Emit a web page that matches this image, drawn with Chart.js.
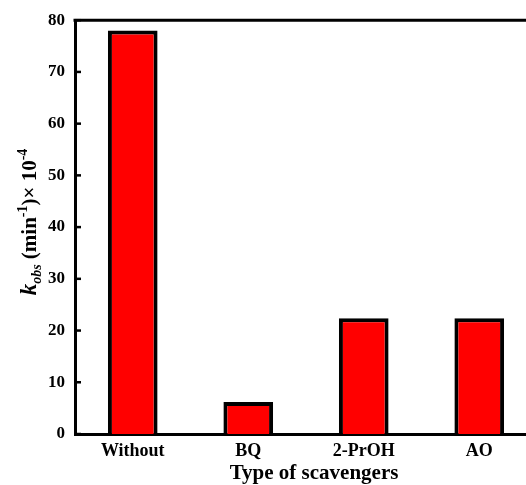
<!DOCTYPE html>
<html>
<head>
<meta charset="utf-8">
<script src="https://cdn.jsdelivr.net/npm/chart.js@4.4.1/dist/chart.umd.min.js"></script>
<style>
  html, body { margin: 0; padding: 0; background: #fff; overflow: hidden; width: 526px; height: 485px; }
  #wrap { width: 560px; height: 485px; }
</style>
</head>
<body>
<div id="wrap"><canvas id="c" width="560" height="485"></canvas></div>
<script>
const categories = ['Without', 'BQ', '2-PrOH', 'AO'];
const kobsValues = [78, 6.2, 22.4, 22.4];
const yTickValues = [0, 10, 20, 30, 40, 50, 60, 70, 80];
const xTitle = 'Type of scavengers';

const SERIF = '"Liberation Serif", "Times New Roman", Times, serif';

const framePlugin = {
  id: 'frame',
  afterDraw(chart) {
    const { ctx, chartArea: a, scales } = chart;
    ctx.save();
    ctx.strokeStyle = '#000';
    ctx.lineWidth = 3;
    ctx.beginPath();
    ctx.moveTo(a.left - 1.5, a.top);
    ctx.lineTo(a.right, a.top);
    ctx.lineTo(a.right, a.bottom);
    ctx.stroke();
    // inward ticks on y axis
    ctx.lineWidth = 2.5;
    yTickValues.forEach(v => {
      const y = scales.y.getPixelForValue(v);
      ctx.beginPath();
      ctx.moveTo(a.left, y);
      ctx.lineTo(a.left + 6, y);
      ctx.stroke();
    });
    // x title
    ctx.fillStyle = '#000';
    ctx.font = 'bold 21px ' + SERIF;
    ctx.textAlign = 'center';
    ctx.textBaseline = 'alphabetic';
    ctx.fillText(xTitle, a.left + 239, 479);
    // y title (rich text)
    const segs = [
      { t: 'k', size: 23, italic: true, dy: 0 },
      { t: 'obs', size: 14, italic: true, dy: 5 },
      { t: ' (min', size: 21, italic: false, dy: 0 },
      { t: '-1', size: 14, italic: false, dy: -9 },
      { t: ')\u00d7 10', size: 21, italic: false, dy: 0 },
      { t: '-4', size: 14, italic: false, dy: -9 }
    ];
    const fontOf = s => (s.italic ? 'italic ' : '') + 'bold ' + s.size + 'px ' + SERIF;
    let total = 0;
    segs.forEach(s => { ctx.font = fontOf(s); s.w = ctx.measureText(s.t).width; total += s.w; });
    ctx.translate(36, 222);
    ctx.rotate(-Math.PI / 2);
    ctx.textAlign = 'left';
    let x = -total / 2;
    segs.forEach(s => {
      ctx.font = fontOf(s);
      ctx.fillText(s.t, x, s.dy);
      x += s.w;
    });
    ctx.restore();
  }
};

new Chart(document.getElementById('c'), {
  type: 'bar',
  data: {
    labels: categories,
    datasets: [{
      data: kobsValues,
      backgroundColor: '#ff0000',
      borderColor: '#000000',
      borderWidth: 4,
      categoryPercentage: 1.0,
      barPercentage: 0.43
    }]
  },
  options: {
    responsive: false,
    animation: false,
    devicePixelRatio: 1,
    layout: { padding: { left: 0, right: 23, top: 18, bottom: 0 } },
    plugins: { legend: { display: false }, tooltip: { enabled: false } },
    scales: {
      x: {
        grid: { display: false, drawTicks: false },
        border: { display: true, color: '#000', width: 3 },
        ticks: { color: '#000', font: { family: SERIF, size: 18, weight: 'bold' }, padding: 7, maxRotation: 0 },
        afterFit(scale) { scale.height = 51; }
      },
      y: {
        min: 0, max: 80,
        grid: { display: false, drawTicks: false },
        border: { display: true, color: '#000', width: 3 },
        ticks: { stepSize: 10, color: '#000', font: { family: SERIF, size: 17, weight: 'bold' }, padding: 10 },
        afterFit(scale) { scale.width = 75; }
      }
    }
  },
  plugins: [framePlugin]
});
</script>
</body>
</html>
